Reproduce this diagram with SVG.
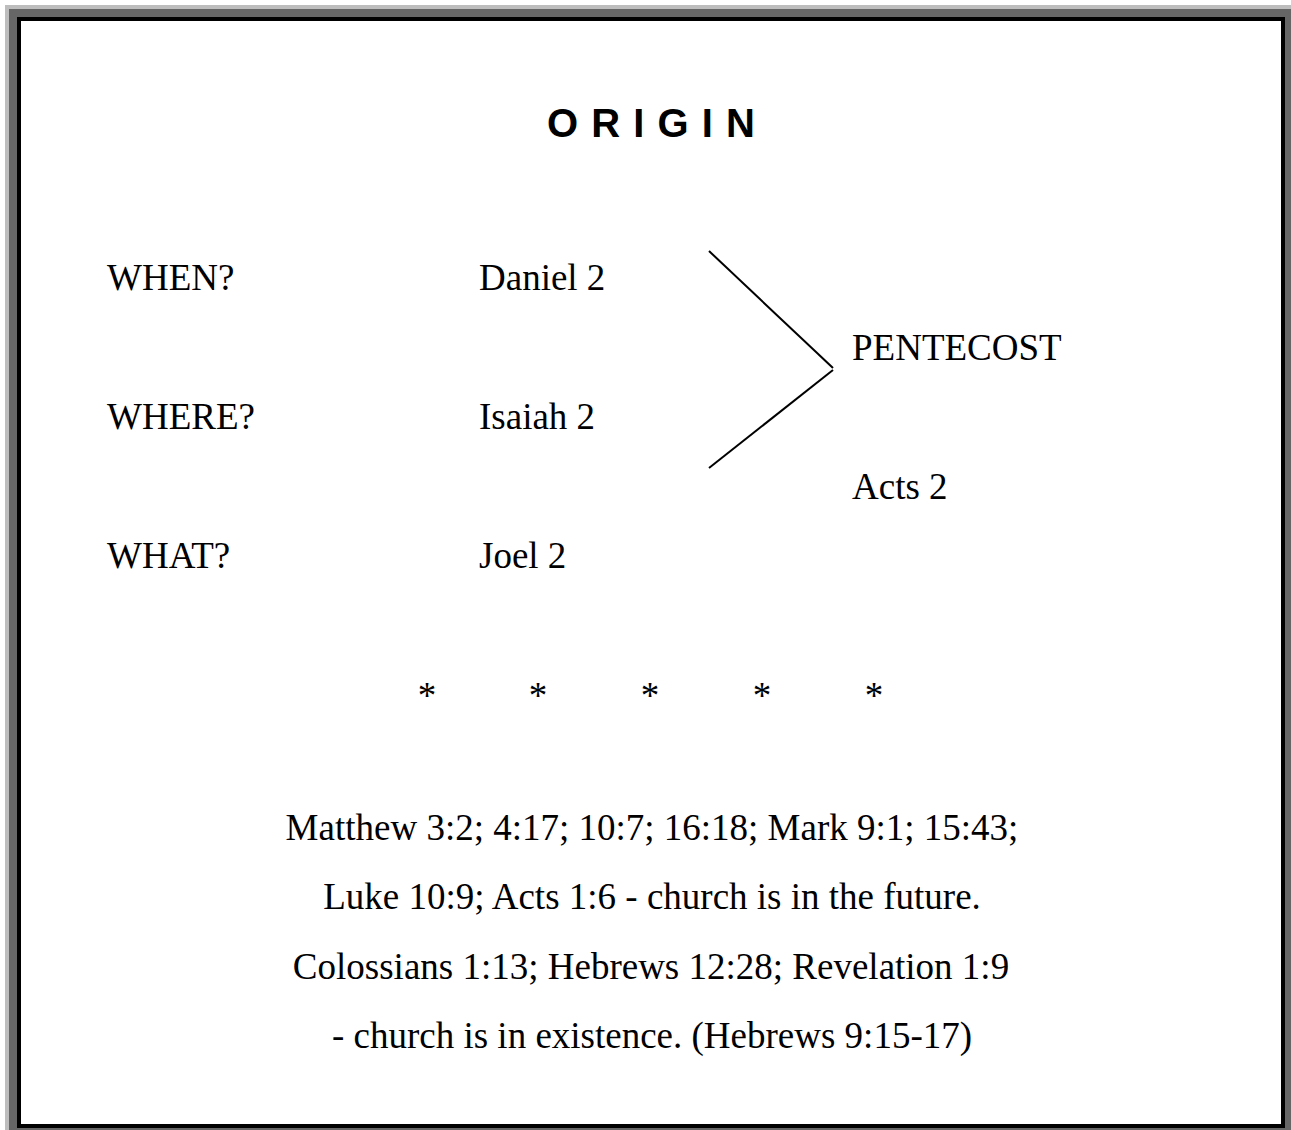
<svg xmlns="http://www.w3.org/2000/svg" width="1291" height="1130" viewBox="0 0 1291 1130">
<style>
.t{font-family:"Liberation Serif","Times New Roman",serif;font-size:37px;fill:#000}
.c{text-anchor:middle}
.ttl{font-family:"Liberation Sans",Arial,sans-serif;font-size:40px;font-weight:bold;fill:#000}
.ln{stroke:#000;stroke-width:2;fill:none}
</style>
<rect width="1291" height="1130" fill="#fff"/>
<g id="frame">
<rect x="5" y="5" width="1286" height="1125" fill="#bdbdbd"/>
<rect x="9" y="9" width="1282" height="1121" fill="#666"/>
<rect x="19" y="19" width="1264" height="1107" fill="#fff" stroke="#000" stroke-width="4"/>
</g>
<g id="title"><text class="ttl" x="547" y="137" textLength="208" lengthAdjust="spacing">O R I G I N</text></g>
<g id="when"><text class="t" x="107" y="290">WHEN?</text></g>
<g id="where"><text class="t" x="107" y="429">WHERE?</text></g>
<g id="what"><text class="t" x="107" y="568">WHAT?</text></g>
<g id="daniel"><text class="t" x="479" y="290">Daniel 2</text></g>
<g id="isaiah"><text class="t" x="479" y="429">Isaiah 2</text></g>
<g id="joel"><text class="t" x="479" y="568">Joel 2</text></g>
<g id="pentecost"><text class="t" x="852" y="360">PENTECOST</text></g>
<g id="acts"><text class="t" x="852" y="499">Acts 2</text></g>
<g id="connectors">
<line class="ln" x1="709" y1="251" x2="833" y2="368"/>
<line class="ln" x1="833" y1="370" x2="709" y2="468"/>
</g>
<g id="stars">
<text class="t c" x="427" y="708">*</text>
<text class="t c" x="538" y="708">*</text>
<text class="t c" x="650" y="708">*</text>
<text class="t c" x="762" y="708">*</text>
<text class="t c" x="874" y="708">*</text>
</g>
<g id="refs">
<text class="t c" x="652" y="840">Matthew 3:2; 4:17; 10:7; 16:18; Mark 9:1; 15:43;</text>
<text class="t c" x="652" y="909">Luke 10:9; Acts 1:6 - church is in the future.</text>
<text class="t c" x="651" y="979">Colossians 1:13; Hebrews 12:28; Revelation 1:9</text>
<text class="t c" x="652" y="1048">- church is in existence. (Hebrews 9:15-17)</text>
</g>
</svg>
